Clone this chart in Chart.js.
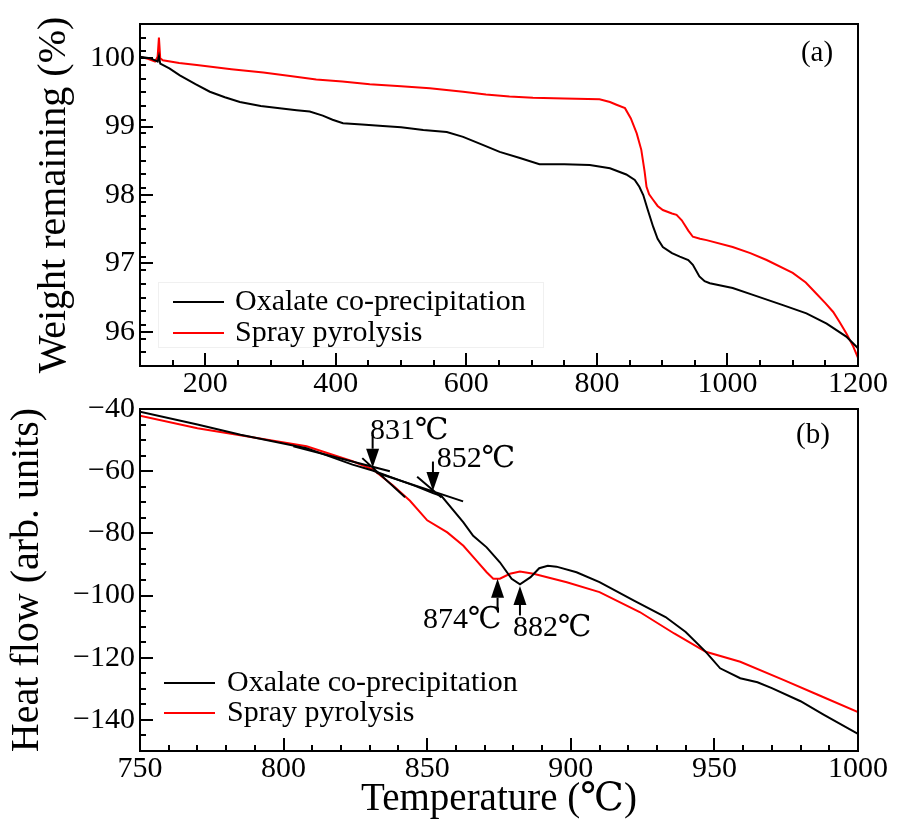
<!DOCTYPE html>
<html>
<head>
<meta charset="utf-8">
<script src="https://cdn.jsdelivr.net/npm/chart.js@4.4.0/dist/chart.umd.min.js"></script>
<style>
  html, body { margin: 0; padding: 0; background: #fff; }
  #wrap { position: relative; width: 901px; height: 826px; }
  canvas { position: absolute; left: 0; }
</style>
</head>
<body>
<div id="wrap">
  <canvas id="tga" width="901" height="400" style="top:0"></canvas>
  <canvas id="dsc" width="901" height="436" style="top:390px"></canvas>
</div>
<script>
// series names / colours
const seriesNames = ['Oxalate co-precipitation', 'Spray pyrolysis'];
const seriesColors = ['#000000', '#ff0000'];

// (a) TGA - weight remaining (%)
const tgaOxT = [100, 115, 125, 127, 129, 131, 145, 161, 185, 207, 230, 253, 285, 314, 340, 360, 380, 395, 411, 440, 472, 500, 534, 570, 595, 626, 651, 682, 712, 750, 789, 820, 845, 858, 865, 871, 878, 886, 893, 901, 915, 927, 940, 947, 957, 965, 973, 1008, 1039, 1085, 1121, 1152, 1182, 1200];
const tgaOxW = [100.02, 100.0, 99.96, 99.95, 100.03, 99.92, 99.85, 99.75, 99.62, 99.51, 99.43, 99.36, 99.30, 99.27, 99.24, 99.22, 99.16, 99.10, 99.05, 99.03, 99.01, 98.99, 98.95, 98.92, 98.85, 98.73, 98.63, 98.54, 98.45, 98.45, 98.44, 98.39, 98.30, 98.22, 98.12, 98.00, 97.78, 97.54, 97.36, 97.24, 97.15, 97.10, 97.05, 96.98, 96.81, 96.74, 96.71, 96.64, 96.54, 96.39, 96.27, 96.12, 95.93, 95.76];
const tgaSpT = [100, 112, 123, 127, 129, 131, 135, 160, 187, 240, 289, 330, 370, 410, 452, 500, 544, 595, 630, 666, 702, 750, 804, 820, 830, 843, 852, 861, 868, 873, 876, 880, 886, 893, 901, 915, 922, 930, 940, 947, 958, 968, 1008, 1035, 1060, 1100, 1120, 1136, 1150, 1162, 1172, 1182, 1192, 1200];
const tgaSpW = [100.02, 99.99, 99.95, 100.02, 100.30, 100.0, 99.97, 99.93, 99.90, 99.84, 99.79, 99.74, 99.69, 99.66, 99.62, 99.59, 99.56, 99.51, 99.47, 99.44, 99.42, 99.41, 99.40, 99.36, 99.32, 99.27, 99.12, 98.90, 98.66, 98.35, 98.12, 98.01, 97.93, 97.84, 97.78, 97.73, 97.71, 97.63, 97.48, 97.39, 97.36, 97.34, 97.24, 97.15, 97.05, 96.86, 96.72, 96.56, 96.42, 96.29, 96.14, 95.98, 95.80, 95.62];

// (b) DSC - heat flow
const dscOxT = [750, 770, 785, 808, 824, 831, 840, 846, 852, 855, 862.6, 866, 870.7, 875.3, 879.4, 882.3, 886, 889, 892, 895, 902, 910, 922, 933, 940, 947, 952, 959, 965, 970, 980, 988, 1000];
const dscOxH = [-40.9, -45.0, -48.3, -52.6, -57.9, -59.8, -62.8, -64.8, -67.0, -68.0, -76.5, -80.8, -84.5, -89.3, -94.6, -96.4, -94.1, -91.2, -90.4, -90.7, -92.5, -95.7, -101.6, -106.9, -111.7, -118.1, -123.4, -126.6, -127.9, -129.8, -134.0, -138.3, -144.5];
const dscSpT = [750, 770, 787, 808, 824, 831, 838, 844, 850, 857, 862.6, 867, 870.7, 873, 875.3, 878.8, 882.3, 887, 898.6, 910, 924, 936, 947, 959, 974, 986, 1000];
const dscSpH = [-42.2, -46.2, -48.8, -52.0, -56.8, -59.4, -64.5, -69.5, -75.8, -79.7, -84.0, -88.6, -92.5, -94.6, -94.6, -93.0, -92.3, -93.0, -95.7, -98.9, -105.3, -112.2, -118.1, -121.3, -127.1, -131.9, -137.5];

// ticks
const tgaXTicks = [200, 400, 600, 800, 1000, 1200];
const tgaYTicks = [96, 97, 98, 99, 100];
const dscXTicks = [750, 800, 850, 900, 950, 1000];
const dscYTicks = [-140, -120, -100, -80, -60, -40];

// annotations in (b): onset tangents, arrows, labels
const tangentLines = [[803.4, -52.0, 837, -60.0], [827.4, -55.8, 842.3, -68.4], [832.4, -60.5, 862.5, -69.7], [846.5, -61.8, 855, -68.5]];
const peakArrows = [[831, -48.3, -58.9], [852, -56.9, -66.4], [874.5, -104.2, -94.6], [882.3, -106.4, -96.9]];
const peakLabels = [['831℃', 830.1, -47.0, 'left'], ['852℃', 853.3, -56.0, 'left'], ['874℃', 875.9, -108.0, 'right'], ['882℃', 879.9, -110.6, 'left']];

const FONT = '"Liberation Serif", "DejaVu Serif", serif';

function pts(xs, ys) {
    return xs.map((x, i) => ({ x: x, y: ys[i] }));
}

function fmt(v) {
    return v < 0 ? '\u2212' + Math.abs(v) : String(v);
}

// layout for each panel (canvas pixel coords)
const panels = {
    tga: {
        xTicks: tgaXTicks, xMinor: 50, yTicks: tgaYTicks, yMinor: 0.2,
        yTitle: 'Weight remaining (%)', yTitleX: 54, xTitle: null,
        tag: '(a)', tagDx: -41, tagDy: 29,
        legendRows: [302, 333], legendLine: [173, 224], legendText: 235,
        legendBox: [158, 282, 543, 347]
    },
    dsc: {
        xTicks: dscXTicks, xMinor: 10, yTicks: dscYTicks, yMinor: 5,
        yTitle: 'Heat flow (arb. units)', yTitleX: 27, xTitle: 'Temperature (℃)', xTitleY: 410,
        tag: '(b)', tagDx: -45, tagDy: 26,
        legendRows: [293, 323], legendLine: [164, 215], legendText: 227,
        legendBox: null, notes: true
    }
};

function minorValues(min, max, step) {
    const out = [];
    const n = Math.round((max - min) / step);
    for (let i = 0; i <= n; i++) out.push(+(min + i * step).toFixed(4));
    return out;
}

const panelPlugin = {
    id: 'panelDecor',
    afterDraw(chart) {
        const p = panels[chart.canvas.id];
        const ctx = chart.ctx;
        const a = chart.chartArea;
        const xs = chart.scales.x, ys = chart.scales.y;
        ctx.save();
        ctx.strokeStyle = '#000';
        ctx.fillStyle = '#000';
        ctx.lineWidth = 2;

        // minor ticks
        ctx.beginPath();
        minorValues(xs.min, xs.max, p.xMinor).forEach(v => {
            const px = Math.round(xs.getPixelForValue(v));
            ctx.moveTo(px, a.bottom); ctx.lineTo(px, a.bottom - 6);
        });
        minorValues(ys.min, ys.max, p.yMinor).forEach(v => {
            const py = Math.round(ys.getPixelForValue(v));
            ctx.moveTo(a.left, py); ctx.lineTo(a.left + 6, py);
        });
        // major ticks
        p.xTicks.forEach(v => {
            const px = Math.round(xs.getPixelForValue(v));
            ctx.moveTo(px, a.bottom); ctx.lineTo(px, a.bottom - 13);
        });
        p.yTicks.forEach(v => {
            const py = Math.round(ys.getPixelForValue(v));
            ctx.moveTo(a.left, py); ctx.lineTo(a.left + 13, py);
        });
        ctx.stroke();

        // frame
        ctx.strokeRect(a.left, a.top, a.right - a.left, a.bottom - a.top);

        // tick labels
        ctx.font = '30px ' + FONT;
        ctx.textAlign = 'center';
        ctx.textBaseline = 'middle';
        p.xTicks.forEach(v => ctx.fillText(fmt(v), xs.getPixelForValue(v), a.bottom + 18));
        ctx.textAlign = 'right';
        p.yTicks.forEach(v => ctx.fillText(fmt(v), a.left - 5, ys.getPixelForValue(v)));

        // axis titles
        ctx.font = '40px ' + FONT;
        ctx.save();
        ctx.translate(p.yTitleX, (a.top + a.bottom) / 2);
        ctx.rotate(-Math.PI / 2);
        ctx.textAlign = 'center';
        ctx.fillText(p.yTitle, 0, 0);
        ctx.restore();
        if (p.xTitle) {
            ctx.font = '39px ' + FONT;
            ctx.textAlign = 'center';
            ctx.fillText(p.xTitle, (a.left + a.right) / 2, p.xTitleY);
        }

        // panel tag
        ctx.font = '29px ' + FONT;
        ctx.textAlign = 'center';
        ctx.fillText(p.tag, a.right + p.tagDx, a.top + p.tagDy);

        // legend
        if (p.legendBox) {
            ctx.save();
            ctx.strokeStyle = '#f0f0f0';
            ctx.lineWidth = 1;
            const b = p.legendBox;
            ctx.strokeRect(b[0] + 0.5, b[1] + 0.5, b[2] - b[0], b[3] - b[1]);
            ctx.restore();
        }
        ctx.font = '30px ' + FONT;
        ctx.textAlign = 'left';
        chart.data.datasets.forEach((ds, i) => {
            const y = p.legendRows[i];
            ctx.strokeStyle = ds.borderColor;
            ctx.beginPath();
            ctx.moveTo(p.legendLine[0], y); ctx.lineTo(p.legendLine[1], y);
            ctx.stroke();
            ctx.fillText(ds.label, p.legendText, y);
        });

        // onset / peak annotations
        if (p.notes) {
            ctx.strokeStyle = '#000';
            ctx.lineWidth = 2;
            ctx.beginPath();
            tangentLines.forEach(t => {
                ctx.moveTo(xs.getPixelForValue(t[0]), ys.getPixelForValue(t[1]));
                ctx.lineTo(xs.getPixelForValue(t[2]), ys.getPixelForValue(t[3]));
            });
            ctx.stroke();

            peakArrows.forEach(ar => {
                const x = xs.getPixelForValue(ar[0]);
                const y0 = ys.getPixelForValue(ar[1]);
                const y1 = ys.getPixelForValue(ar[2]);
                const dir = y1 > y0 ? 1 : -1;
                const headLen = 19, half = 6.5;
                ctx.beginPath();
                ctx.moveTo(x, y0); ctx.lineTo(x, y1 - dir * headLen);
                ctx.stroke();
                ctx.beginPath();
                ctx.moveTo(x, y1);
                ctx.lineTo(x - half, y1 - dir * headLen);
                ctx.lineTo(x + half, y1 - dir * headLen);
                ctx.closePath();
                ctx.fill();
            });

            ctx.font = '30px ' + FONT;
            peakLabels.forEach(l => {
                ctx.textAlign = l[3];
                ctx.fillText(l[0], xs.getPixelForValue(l[1]), ys.getPixelForValue(l[2]));
            });
        }
        ctx.restore();
    }
};

function makeChart(id, seriesA, seriesB, xr, yr, pad, xHeight) {
    return new Chart(document.getElementById(id), {
        type: 'line',
        data: {
            datasets: [seriesA, seriesB].map((d, i) => ({
                label: seriesNames[i],
                data: d,
                borderColor: seriesColors[i],
                borderWidth: 2,
                pointRadius: 0,
                tension: 0,
                fill: false
            }))
        },
        options: {
            responsive: false,
            animation: false,
            layout: { padding: pad },
            scales: {
                x: {
                    type: 'linear', min: xr[0], max: xr[1],
                    grid: { display: false, drawTicks: false },
                    border: { display: false },
                    ticks: { display: false },
                    afterFit: s => { s.height = xHeight; }
                },
                y: {
                    type: 'linear', min: yr[0], max: yr[1],
                    grid: { display: false, drawTicks: false },
                    border: { display: false },
                    ticks: { display: false },
                    afterFit: s => { s.width = 140; }
                }
            },
            plugins: {
                legend: { display: false },
                tooltip: { enabled: false }
            }
        },
        plugins: [panelPlugin]
    });
}

makeChart('tga', pts(tgaOxT, tgaOxW), pts(tgaSpT, tgaSpW), [100, 1200], [95.5, 100.5],
    { left: 0, right: 43, top: 24, bottom: 0 }, 34);
makeChart('dsc', pts(dscOxT, dscOxH), pts(dscSpT, dscSpH), [750, 1000], [-150, -40],
    { left: 0, right: 43, top: 19, bottom: 0 }, 75);
</script>
</body>
</html>
